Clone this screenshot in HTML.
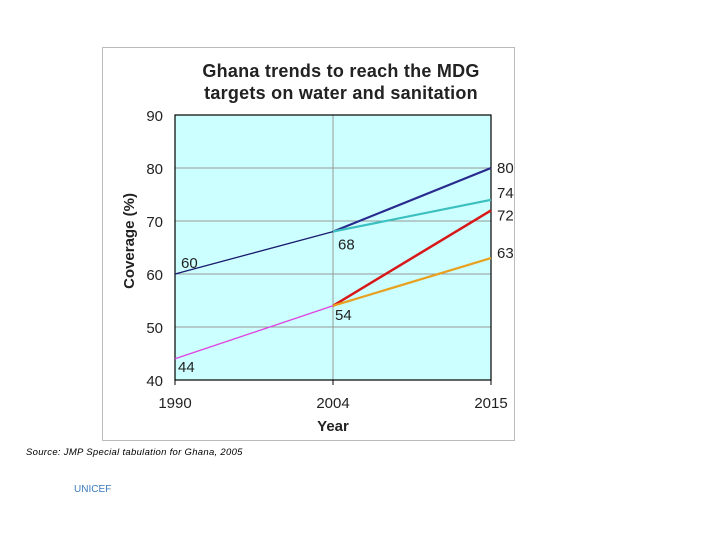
<!DOCTYPE html>
<html><head><meta charset="utf-8"><style>
body{margin:0;width:720px;height:540px;background:#fff;font-family:"Liberation Sans",sans-serif;position:relative;overflow:hidden}
.t{position:absolute;white-space:nowrap}
</style></head><body>
<div style="position:absolute;left:102px;top:47px;width:411px;height:392px;border:1px solid #bbb"></div>
<div class="t" style="left:102px;width:478px;top:60px;text-align:center;font-weight:bold;font-size:18px;letter-spacing:0.25px;line-height:22px;color:#222">Ghana trends to reach the MDG<br>targets on water and sanitation</div>
<svg id="c" width="720" height="540" style="position:absolute;left:0;top:0"></svg>
<div class="t" style="left:26px;top:447px;font-size:9.5px;letter-spacing:0.3px;font-style:italic;color:#000">Source: JMP Special tabulation for Ghana, 2005</div>
<div class="t" style="left:74px;top:484px;font-size:10px;color:#3a7bbf">UNICEF</div>
<script>
const categories=["1990","2004","2015"];
const yTicks=[40,50,60,70,80,90];
const segments=[
 {name:"water-trend",from:0,to:1,v0:60,v1:68,color:"#1a1a6e",w:1.3},
 {name:"water-target",from:1,to:2,v0:68,v1:80,color:"#2a2a8e",w:2.2},
 {name:"water-current",from:1,to:2,v0:68,v1:74,color:"#3cbfbf",w:2.2},
 {name:"sanitation-trend",from:0,to:1,v0:44,v1:54,color:"#e040e0",w:1.3},
 {name:"sanitation-target",from:1,to:2,v0:54,v1:72,color:"#d81818",w:2.5},
 {name:"sanitation-current",from:1,to:2,v0:54,v1:63,color:"#e8a020",w:2.2}];
const labels=[{v:60,i:0,dx:6,dy:-6},{v:68,i:1,dx:5,dy:18},{v:80,i:2,dx:6,dy:5},{v:74,i:2,dx:6,dy:-2},{v:72,i:2,dx:6,dy:10},{v:63,i:2,dx:6,dy:0},{v:54,i:1,dx:2,dy:14},{v:44,i:0,dx:3,dy:13}];
const L=175,R=491,T=115,B=380,NS="http://www.w3.org/2000/svg";
const x=i=>L+(R-L)*i/(categories.length-1);
const y=v=>B-(v-40)/50*(B-T);
const s=document.getElementById('c');
function mk(t,a,p){const e=document.createElementNS(NS,t);for(const k in a)e.setAttribute(k,a[k]);(p||s).appendChild(e);return e;}
const bg=mk('rect',{x:L,y:T,width:R-L,height:B-T,fill:'#ccffff',stroke:'none'});


yTicks.forEach(v=>{
 if(v>40&&v<90){const g=mk('line',{x1:L,x2:R,y1:y(v),y2:y(v),stroke:'#999','stroke-width':1});
 
 }
 const t=mk('text',{x:L-12,y:y(v)+6,'text-anchor':'end','font-size':15,fill:'#222'});t.textContent=v;
 
 
});
categories.forEach((c,i)=>{
 if(i==1){const g=mk('line',{x1:x(i),x2:x(i),y1:T,y2:B,stroke:'#999','stroke-width':1});
 
 }
 const tk=mk('line',{x1:x(i),x2:x(i),y1:B,y2:B+5,stroke:'#000'});
 
 
 const t=mk('text',{x:x(i),y:B+28,'text-anchor':'middle','font-size':15,fill:'#222'});t.textContent=c;
 
 
});
const fr=mk('rect',{x:L,y:T,width:R-L,height:B-T,fill:'none',stroke:'#000','stroke-width':1.2});


segments.forEach(g=>{
 const l=mk('line',{x1:x(g.from),y1:y(g.v0),x2:x(g.to),y2:y(g.v1),stroke:g.color,'stroke-width':g.w});
 
 
});
labels.forEach(d=>{
 const t=mk('text',{x:x(d.i)+d.dx,y:y(d.v)+d.dy,'font-size':15,fill:'#222'});t.textContent=d.v;
 
 
});
const yt=mk('text',{x:0,y:0,'font-size':15,'font-weight':'bold',fill:'#222','text-anchor':'middle',transform:'translate(134,241) rotate(-90)'});yt.textContent='Coverage (%)';


const xt=mk('text',{x:333,y:431,'font-size':15,'font-weight':'bold',fill:'#222','text-anchor':'middle'});xt.textContent='Year';


</script>
</body></html>
